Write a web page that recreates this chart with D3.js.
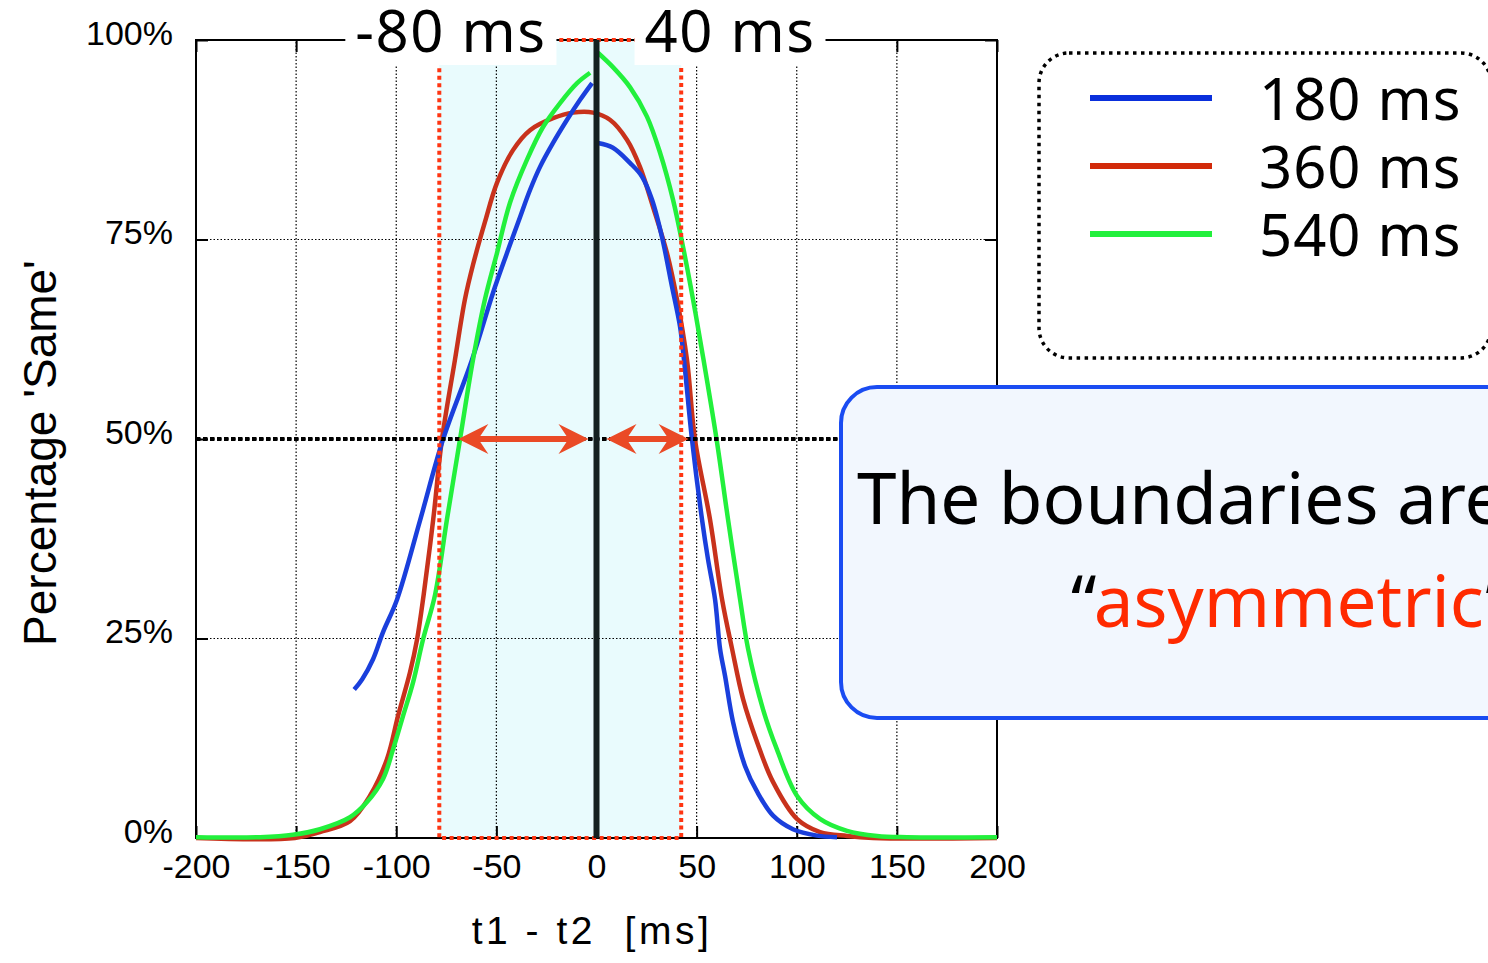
<!DOCTYPE html>
<html>
<head>
<meta charset="utf-8">
<script src="https://cdn.jsdelivr.net/npm/d3@7"></script>
<style>
  body { margin: 0; background: #fff; overflow: hidden; }
  svg { display: block; }
  .tick text { font-family: "Liberation Sans", Arial, sans-serif; font-size: 34px; fill: #000; }
  .big { font-family: "Noto Sans", sans-serif; font-weight: 400; }
</style>
</head>
<body>
<div id="chart"></div>
<script>
var xTicks = [-200, -150, -100, -50, 0, 50, 100, 150, 200];
var yTicks = [0, 25, 50, 75, 100];

// boundary band (ms) and the labels above it
var bandRange = [-78.5, 42.3];
var bandLabels = ["-80 ms", "40 ms"];
// double arrows along the 50% line: [from, to]
var arrows = [[-69, -4], [5, 46]];

var seriesNames = ["180 ms", "360 ms", "540 ms"];

// [t1 - t2, % same]; null = break at 0
var blue180 = [
  [-121, 18.6], [-117, 19.9], [-111.6, 22.4], [-106.6, 25.8], [-99.6, 29.9],
  [-88, 39.9], [-76.7, 49.9], [-62.2, 59.9], [-51.7, 68.3], [-44.7, 73.3],
  [-38.2, 77.8], [-33.2, 81.2], [-28.2, 84.1], [-21.7, 87.1], [-14.7, 90],
  [-8.2, 92.5], [-2.2, 94.6], null,
  [0.7, 87.1], [8.2, 86.5], [16.7, 84.6], [22.7, 82.9], [27.7, 80],
  [32.7, 75.3], [37.7, 69.1], [41.7, 64.1], [43.7, 59.9], [47.7, 49.9],
  [52.7, 39.9], [55.7, 34.9], [59.2, 29.9], [61.7, 23.7], [64.2, 20.3],
  [68.2, 14.5], [74.2, 9], [80.2, 5.8], [88.2, 2.8], [98.1, 1.1],
  [110.1, 0.3], [120.1, 0.1]
];
var red360 = [
  [-200, 0], [-150.6, 0], [-138.1, 0.75], [-123.1, 2.1], [-113.1, 5.3],
  [-104.6, 9.9], [-99.1, 15.3], [-93.1, 20.8], [-89.6, 24.9], [-86.3, 30.5],
  [-81.5, 40], [-77.2, 49.9], [-70.7, 59.9], [-65.7, 67.5], [-61.7, 71.8],
  [-55.7, 77.2], [-49.7, 82.1], [-41.7, 86.2], [-33.2, 88.7], [-21.7, 90.2],
  [-11.7, 90.9], [-1.7, 90.9], [6.7, 90], [15.2, 87.5], [21.7, 84.1],
  [28.2, 79.1], [35.2, 73.3], [40.2, 67.5], [45.2, 59.9], [49.2, 49.9],
  [56.7, 39.9], [62.7, 29.9], [67.7, 23.7], [73.2, 17.4], [80.2, 12],
  [88.2, 7], [100.1, 2.4], [111.6, 0.75], [125.1, 0.25], [138.1, 0], [200, 0]
];
var green540 = [
  [-200, 0.1], [-168, 0.1], [-151.6, 0.4], [-138.1, 1.1], [-123.1, 2.6],
  [-114.6, 4.5], [-106.6, 7.4], [-101.6, 11.1], [-96.6, 15.3], [-91.6, 19.5],
  [-86.6, 24.9], [-80.6, 30.5], [-74.7, 39.9], [-68.2, 49.9], [-61.7, 59.9],
  [-55.7, 67.5], [-49.7, 73.3], [-43.2, 79.6], [-34.7, 85], [-26.7, 89.1],
  [-18.2, 92.1], [-9.7, 94.6], [-3.2, 95.9], null,
  [0.7, 98.4], [8.2, 96.6], [16.7, 94.1], [25.2, 90.4], [31.7, 85.9],
  [38.2, 80], [43.2, 74.1], [48.2, 67.5], [53.2, 60.3], [60, 49.9],
  [65.7, 39.9], [71.7, 29.9], [75.7, 23.7], [83.2, 16.1], [90.1, 11.1],
  [100.1, 5.3], [111.6, 2.4], [125.1, 0.9], [140.1, 0.25], [155.1, 0.1],
  [200, 0.1]
];

var seriesData = [blue180, red360, green540];
var seriesColors = ["#1a3fdc", "#c8321c", "#22f03c"];
var legendColors = ["#0a2fdc", "#d22a0a", "#22f03c"];
var drawOrder = [1, 0, 2];

var svg = d3.select("#chart").append("svg")
  .attr("width", 1488)
  .attr("height", 963);

var x = d3.scaleLinear().domain([-200, 200]).range([196, 997]);
var y = d3.scaleLinear().domain([0, 100]).range([838, 40]);

// band fill
svg.append("rect")
  .attr("x", x(bandRange[0]))
  .attr("y", y(100))
  .attr("width", x(bandRange[1]) - x(bandRange[0]))
  .attr("height", y(0) - y(100))
  .attr("fill", "#e9fbfd");

// dotted grid
svg.append("g").selectAll("line")
  .data(xTicks.slice(1, -1))
  .enter().append("line")
  .attr("x1", d => x(d)).attr("x2", d => x(d))
  .attr("y1", y(0)).attr("y2", y(100))
  .attr("stroke", "#000").attr("stroke-width", 1.2)
  .attr("stroke-dasharray", "1.5,2");
svg.append("g").selectAll("line")
  .data(yTicks.slice(1, -1))
  .enter().append("line")
  .attr("x1", x(-200)).attr("x2", x(200))
  .attr("y1", d => y(d)).attr("y2", d => y(d))
  .attr("stroke", "#000").attr("stroke-width", 1.2)
  .attr("stroke-dasharray", "1.5,2");

// axes, ticks inward
svg.append("g")
  .attr("transform", "translate(0," + y(0) + ")")
  .call(d3.axisBottom(x).tickValues(xTicks).tickFormat(d => String(d))
    .tickSize(-12).tickSizeOuter(0).tickPadding(16))
  .call(g => g.select(".domain").remove())
  .selectAll(".tick line").attr("stroke", "#000").attr("stroke-width", 2);
svg.append("g")
  .attr("transform", "translate(" + x(-200) + ",0)")
  .call(d3.axisLeft(y).tickValues(yTicks).tickFormat(d => d + "%")
    .tickSize(-12).tickSizeOuter(0).tickPadding(23))
  .call(g => g.select(".domain").remove())
  .call(g => g.selectAll(".tick text").attr("dy", "0.13em"))
  .selectAll(".tick line").attr("stroke", "#000").attr("stroke-width", 2);
svg.append("g")
  .attr("transform", "translate(0," + y(100) + ")")
  .call(d3.axisTop(x).tickValues(xTicks).tickSize(-12).tickSizeOuter(0).tickFormat(""))
  .call(g => g.select(".domain").remove())
  .selectAll(".tick line").attr("stroke", "#000").attr("stroke-width", 2);
svg.append("g")
  .attr("transform", "translate(" + x(200) + ",0)")
  .call(d3.axisRight(y).tickValues(yTicks).tickSize(-12).tickSizeOuter(0).tickFormat(""))
  .call(g => g.select(".domain").remove())
  .selectAll(".tick line").attr("stroke", "#000").attr("stroke-width", 2);

// frame
svg.append("rect")
  .attr("x", x(-200)).attr("y", y(100))
  .attr("width", x(200) - x(-200)).attr("height", y(0) - y(100))
  .attr("fill", "none").attr("stroke", "#000").attr("stroke-width", 2);

// curves
var line = d3.line()
  .defined(d => d != null)
  .x(d => x(d[0]))
  .y(d => y(d[1]))
  .curve(d3.curveCatmullRom.alpha(0.5));

svg.append("g").selectAll("path")
  .data(drawOrder)
  .enter().append("path")
  .attr("d", i => line(seriesData[i]))
  .attr("fill", "none")
  .attr("stroke", i => seriesColors[i])
  .attr("stroke-width", 4.5)
  .attr("stroke-linejoin", "round");

// 50% line
svg.append("line")
  .attr("x1", x(-200)).attr("x2", x(200))
  .attr("y1", y(50)).attr("y2", y(50))
  .attr("stroke", "#000").attr("stroke-width", 4)
  .attr("stroke-dasharray", "4.5,2.5");

// band outline (red dotted)
svg.append("rect")
  .attr("x", x(bandRange[0]))
  .attr("y", y(100))
  .attr("width", x(bandRange[1]) - x(bandRange[0]))
  .attr("height", y(0) - y(100))
  .attr("fill", "none")
  .attr("stroke", "#ff3512").attr("stroke-width", 4)
  .attr("stroke-dasharray", "4,3.5");

// zero line
svg.append("line")
  .attr("x1", x(0)).attr("x2", x(0))
  .attr("y1", y(100)).attr("y2", y(0))
  .attr("stroke", "#142020").attr("stroke-width", 6);

// red double arrows
function arrowPath(a, b, yy) {
  var hl = 30, hw = 15, notch = 22;
  return "M" + a + "," + yy +
    "L" + (a + hl) + "," + (yy - hw) +
    "L" + (a + notch) + "," + (yy - 3) +
    "L" + (b - notch) + "," + (yy - 3) +
    "L" + (b - hl) + "," + (yy - hw) +
    "L" + b + "," + yy +
    "L" + (b - hl) + "," + (yy + hw) +
    "L" + (b - notch) + "," + (yy + 3) +
    "L" + (a + notch) + "," + (yy + 3) +
    "L" + (a + hl) + "," + (yy + hw) + "Z";
}
svg.append("g").selectAll("path")
  .data(arrows)
  .enter().append("path")
  .attr("d", d => arrowPath(x(d[0]), x(d[1]), y(50)))
  .attr("fill", "#ea4a26");

// band labels with white backing
var labelG = svg.append("g");
bandLabels.forEach(function (txt, i) {
  var g = labelG.append("g");
  var bg = g.append("rect").attr("fill", "#fff");
  var t = g.append("text")
    .attr("class", "big")
    .attr("x", i === 0 ? x(-20) - 10 : x(19) + 10)
    .attr("y", 52)
    .attr("text-anchor", i === 0 ? "end" : "start")
    .attr("font-size", 58)
    .attr("letter-spacing", 1.5)
    .text(txt);
  var bb = t.node().getBBox();
  bg.attr("x", bb.x - 10).attr("y", 0)
    .attr("width", bb.width + 20).attr("height", 65);
});

// axis titles
svg.append("text")
  .attr("x", 592).attr("y", 944)
  .attr("text-anchor", "middle")
  .attr("font-family", "Liberation Sans, Arial, sans-serif")
  .attr("font-size", 39)
  .attr("letter-spacing", 3.5)
  .style("white-space", "pre")
  .text("t1 - t2  [ms]");
svg.append("text")
  .attr("transform", "translate(56,453) rotate(-90)")
  .attr("text-anchor", "middle")
  .attr("font-family", "Liberation Sans, Arial, sans-serif")
  .attr("font-size", 46)
  .text("Percentage 'Same'");

// legend
svg.append("rect")
  .attr("x", 1039).attr("y", 53)
  .attr("width", 452).attr("height", 305)
  .attr("rx", 30)
  .attr("fill", "#fff")
  .attr("stroke", "#000").attr("stroke-width", 3.5)
  .attr("stroke-dasharray", "3.5,4.5");
var leg = svg.append("g").selectAll("g")
  .data(seriesNames)
  .enter().append("g")
  .attr("transform", (d, i) => "translate(0," + (98 + i * 68) + ")");
leg.append("line")
  .attr("x1", 1090).attr("x2", 1212)
  .attr("stroke", (d, i) => legendColors[i])
  .attr("stroke-width", 6);
leg.append("text")
  .attr("class", "big")
  .attr("x", 1259).attr("y", 22)
  .attr("font-size", 58)
  .attr("letter-spacing", 1)
  .text(d => d);

// annotation box
svg.append("rect")
  .attr("x", 841).attr("y", 387)
  .attr("width", 720).attr("height", 331)
  .attr("rx", 36)
  .attr("fill", "#f2f7fe")
  .attr("stroke", "#1a4cf2").attr("stroke-width", 4);
svg.append("text")
  .attr("class", "big")
  .attr("x", 857).attr("y", 524)
  .attr("font-size", 71)
  .text("The boundaries are");
var t2 = svg.append("text")
  .attr("class", "big")
  .attr("x", 1071).attr("y", 627)
  .attr("font-size", 71);
t2.append("tspan").text("\u201c");
t2.append("tspan").attr("fill", "#ff2a00").text("asymmetric");
t2.append("tspan").text("\u201d");
</script>
</body>
</html>
